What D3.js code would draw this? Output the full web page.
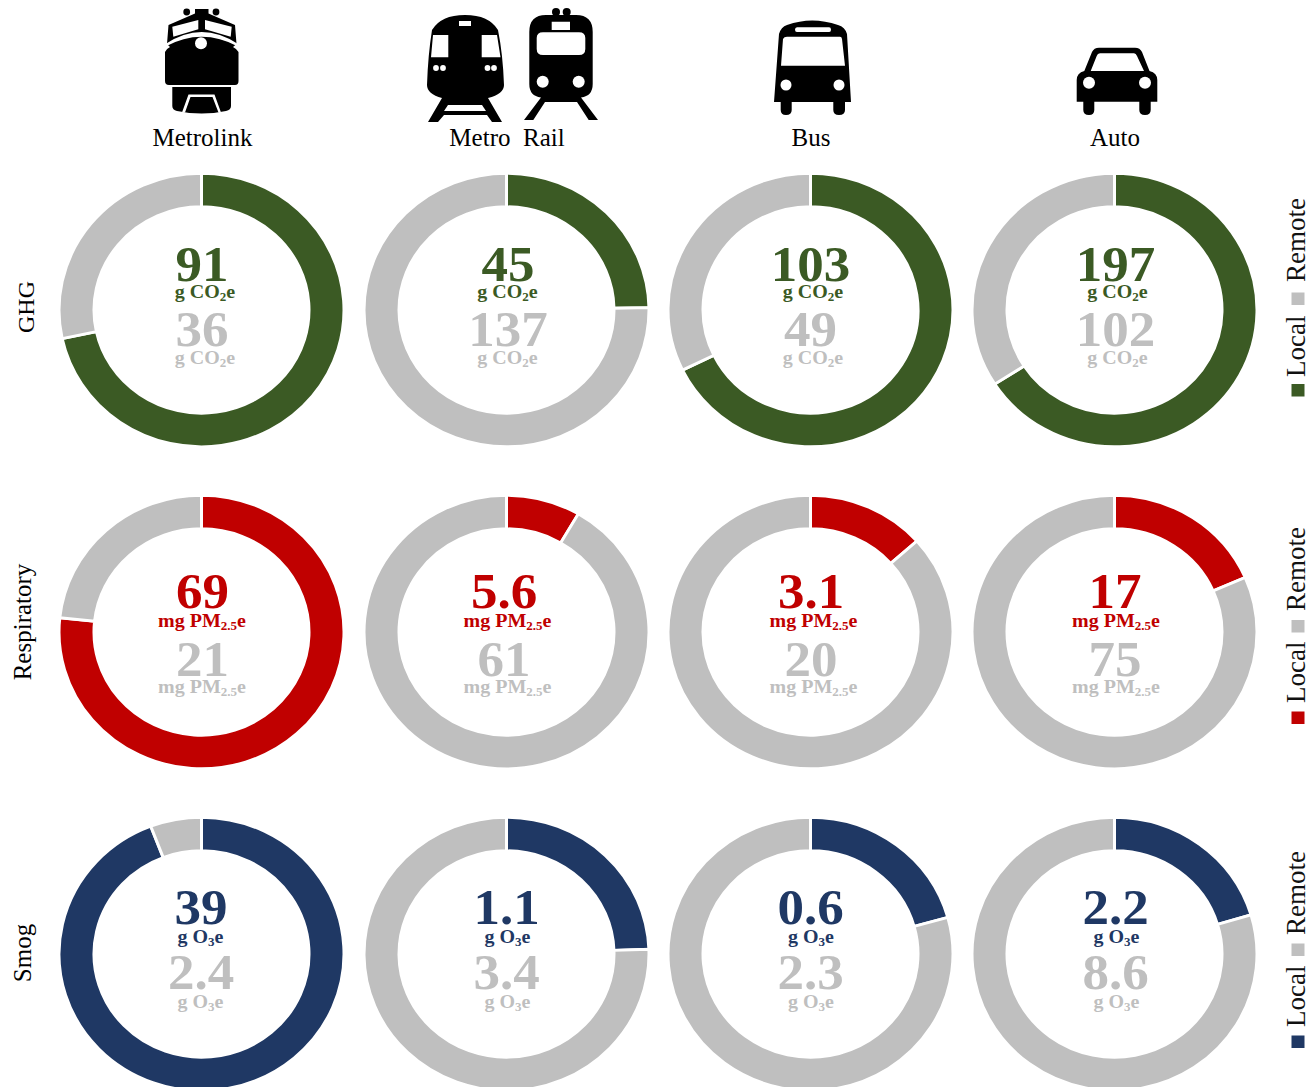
<!DOCTYPE html>
<html><head><meta charset="utf-8">
<script src="https://cdn.jsdelivr.net/npm/d3@7/dist/d3.min.js"></script>
<style>html,body{margin:0;padding:0;background:#fff}svg{display:block}text{font-family:"Liberation Serif",serif}</style>
</head><body><svg id="c" width="1310" height="1087"></svg>
<script>
const modes = ["Metrolink","Metro  Rail","Bus","Auto"];
const impacts = ["GHG","Respiratory","Smog"];
const localValues = [[91,45,103,197],[69,5.6,3.1,17],[39,1.1,0.6,2.2]];
const remoteValues = [[36,137,49,102],[21,61,20,75],[2.4,3.4,2.3,8.6]];
const localLabels = [["91","45","103","197"],["69","5.6","3.1","17"],["39","1.1","0.6","2.2"]];
const remoteLabels = [["36","137","49","102"],["21","61","20","75"],["2.4","3.4","2.3","8.6"]];
const unitParts = [["g CO","2","e"],["mg PM","2.5","e"],["g O","3","e"]];
const rowColors = ["#3B5A24","#C00000","#1F3864"];
const remoteColor = "#BFBFBF";
const legendNames = ["Local","Remote"];

const svg = d3.select("#c");
const cx = [201.5,506.5,810.5,1114.5], cy = [310,632,954];
const rowOffsets = [[-29.5,-12,36,54],[-24.5,-5,44,61.5],[-30,-11,34.5,54]];
const unitShift = [[3.5,1,2.5,3],[0.5,1,3,1.5],[-1,1,0.5,2]];
const numShift = [[0.5,1.5,0,1],[1,-2.5,0.5,0.5],[-0.5,0,0,1]];
const yScale = 0.96;
const pie = d3.pie().sort(null).startAngle(0).endAngle(2*Math.PI).value(d=>d);
const arc = d3.arc().innerRadius(107.5).outerRadius(142.5);

impacts.forEach((name,r)=>{
  modes.forEach((m,c)=>{
    const g = svg.append("g").attr("transform",`translate(${cx[c]},${cy[r]}) scale(1,${yScale})`);
    g.append("g").selectAll("path").data(pie([localValues[r][c],remoteValues[r][c]])).join("path")
      .attr("d",arc).attr("fill",(d,i)=>i===0?rowColors[r]:remoteColor)
      .attr("stroke","#fff").attr("stroke-width",3);
    const o = rowOffsets[r].map(v=>v/yScale);
    const num=(t,y,col)=>g.append("text").attr("x",numShift[r][c]).attr("y",y).attr("text-anchor","middle")
      .attr("font-size",53).attr("font-weight","bold").attr("fill",col).text(t);
    const unit=(y,col)=>{
      const u=unitParts[r];
      const t=g.append("text").attr("x",unitShift[r][c]).attr("y",y).attr("text-anchor","middle")
        .attr("font-size",20).attr("font-weight","bold").attr("fill",col);
      t.append("tspan").text(u[0]);
      t.append("tspan").attr("font-size",13).attr("dy",3).text(u[1]);
      t.append("tspan").attr("dy",-3).text(u[2]);
    };
    num(localLabels[r][c],o[0],rowColors[r]); unit(o[1],rowColors[r]);
    num(remoteLabels[r][c],o[2],remoteColor); unit(o[3],remoteColor);
  });
});

// row titles
const titleX=[34,31,31], titleY=[307,622,953], titleSize=[24,25,25];
impacts.forEach((name,r)=>svg.append("text").attr("transform",`translate(${titleX[r]},${titleY[r]}) rotate(-90)`)
    .attr("text-anchor","middle").attr("font-size",titleSize[r]).text(name));

// legends
const localSq=[384,711.5,1035.5], remoteSq=[292.5,620,943.5];
const localTxt=[377,703,1027], remoteTxt=[282,611,935];
impacts.forEach((name,r)=>{
  svg.append("rect").attr("x",1291.5).attr("y",localSq[r]).attr("width",13).attr("height",12.5).attr("fill",rowColors[r]);
  svg.append("rect").attr("x",1291.5).attr("y",remoteSq[r]).attr("width",13).attr("height",12.5).attr("fill",remoteColor);
  svg.append("text").attr("transform",`translate(1305,${localTxt[r]}) rotate(-90)`).attr("font-size",27).attr("fill","#111").text(legendNames[0]);
  svg.append("text").attr("transform",`translate(1305,${remoteTxt[r]}) rotate(-90)`).attr("font-size",27).attr("fill","#111").text(legendNames[1]);
});

modes.forEach((m,i)=>svg.append("text").attr("x",[202.5,507,811,1115][i]).attr("y",146).attr("text-anchor","middle")
  .attr("font-size",25).style("white-space","pre").text(m));

// transport icons
const icons = svg.append("g");
const W="#fff";
const p=(d,f="#000")=>icons.append("path").attr("d",d).attr("fill",f);
const dot=(x,y,r,f=W)=>icons.append("circle").attr("cx",x).attr("cy",y).attr("r",r).attr("fill",f);
// Metrolink
p("M195 9H208.5V13.5L235 25L236.5 44L233 47Q237 49 238.5 52V81Q238.5 85 235 85H169Q165 85 165 81V52Q166 49 170 47L167 44L168.5 25L195 13.5Z");
dot(186.7,12,3.4,"#000");dot(216,12,3.4,"#000");
p("M172.3 26.7L198.3 20V29.3L173.3 36.7Z",W);
p("M205 20L231.7 26.7L230.7 36.7L205 29.3Z",W);
p("M165.5 44Q201.7 20 238 44L238 46.5Q201.7 27 165.5 46.5Z",W);
dot(201,43.3,6);
p("M172.3 87H231V106Q231 110 226 111Q201.7 116 177 111Q172.3 110 172.3 106Z");
p("M182 112.5L188.5 94.5H214.5L221 112.5H218.5L212.5 97H190.5L185 112.5Z",W);
// Metro
p("M465 15Q489 15 498 30Q503 55 504 85Q504 94 488 98L502 122H492L487 115H444L438 122H428L442 98Q427 94 427 85Q428 55 432 30Q441 15 465 15Z");
p("M459 21H471V26H459ZM433 35H448.3V57.3H431ZM481.7 35H497L500.5 57.3H481.7Z",W);
dot(436,68,2.9);dot(443,68,2.9);dot(487.5,68,2.9);dot(494,68,2.9);
p("M448 105H482L486 111H444Z",W);
// Rail
p("M529.3 32Q529.3 15 546 15H576Q592.7 15 592.7 32V84Q592.7 96 581 97.5L598 120H588.7L577 102H545L533.3 120H524L541 97.5Q529.3 96 529.3 84Z");
dot(556,12,4,"#000");dot(566.7,12,4,"#000");
p("M551.7 21.7H570V30H551.7ZM543 32.3H579Q585.3 32.3 585.3 38V49Q585.3 55 579 55H543Q536.7 55 536.7 49V38Q536.7 32.3 543 32.3Z",W);
dot(542.7,81.7,6);dot(578.7,81.7,6);
// Bus
p("M779 34Q781 27 787 25Q812 16 838 25Q845 27 847 34L851 102H845V110Q845 115 839 115Q833.3 115 833.3 110V102H791.7V110Q791.7 115 786 115Q780.7 115 780.7 110V102H774Z");
p("M797 27.3H829Q831 27.3 831 29.7T829 32H797Q795 32 795 29.7T797 27.3ZM787 36.7H840Q841.7 36.7 842 39L845 65.7H781L783 39Q784 36.7 787 36.7Z",W);
dot(786,85,5.5);dot(839,85,5.5);
// Auto
p("M1084.3 71L1092 52Q1094 47.7 1099 47.7H1135Q1140 47.7 1142 52L1149.5 71Q1157.3 73 1157.3 80V101.7H1150.7V110Q1150.7 115 1145 115Q1139.3 115 1139.3 110V101.7H1094.3V110Q1094.3 115 1089 115Q1083.3 115 1083.3 110V101.7H1076.7V80Q1076.7 73 1084.3 71Z");
p("M1090.7 71L1096.7 56Q1097.5 53.3 1100 53.3H1134Q1136 53.3 1137 56L1144 71Z",W);
dot(1089,82.7,6);dot(1145,82.7,6);
</script></body></html>
